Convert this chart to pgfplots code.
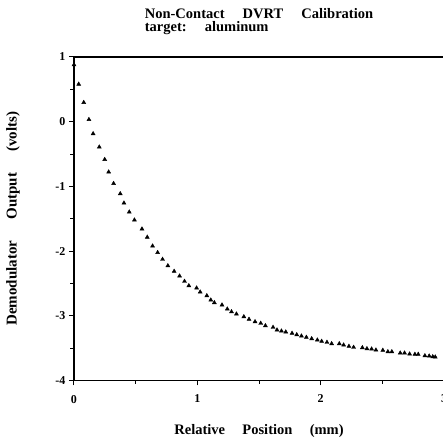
\documentclass[border=0pt]{standalone}
\usepackage{fontspec}
\setmainfont{Liberation Serif}
\usepackage{pgfplots}
\pgfplotsset{compat=1.18}
\newcommand\gap{\hspace{1.25em}}
\newcommand\lgap{\hspace{1.2em}}
\newcommand\ygap{\hspace{1.4em}}
\begin{document}
\begin{tikzpicture}
\begin{axis}[
  name=ax,
  scale only axis,
  width=370pt, height=323.5pt,
  xmin=0, xmax=3, ymin=-4, ymax=1,
  axis x line=box, axis y line=left,
  axis line style={line width=1.3pt, -, black},
  xtick={0,1,2,3}, ytick={-4,-3,-2,-1,0,1},
  minor x tick num=1, minor y tick num=1,
  xtick pos=bottom, ytick pos=left,
  tick align=outside,
  major tick length=5pt, minor tick length=3.5pt,
  tick style={line width=1pt, black},
  ticklabel style={font=\fontsize{12}{12}\selectfont\bfseries},
  xticklabel style={yshift=-6pt},
  /pgf/number format/assume math mode=true,
  title={Non-Contact\gap DVRT\gap Calibration\\target:\gap aluminum},
  title style={font=\fontsize{14.5}{13}\selectfont\bfseries, align=left, at={(0.5,1)}, anchor=south, inner sep=0pt, yshift=16pt},
  xlabel={Relative\lgap Position\lgap (mm)},
  ylabel={Demodulator\ygap Output\ygap (volts)},
  xlabel style={font=\fontsize{14.5}{14.5}\selectfont\bfseries, at={(0.5,0)}, anchor=center, yshift=-50.5pt},
  ylabel style={font=\fontsize{15}{15}\selectfont\bfseries, at={(0,0.5)}, anchor=center, yshift=61pt},
]
\addplot[only marks, mark=triangle*, mark size=2.3pt, black] coordinates {
(0.000,0.880) (0.038,0.580) (0.079,0.297) (0.121,0.034) (0.155,-0.185)
(0.205,-0.391) (0.249,-0.584) (0.281,-0.777) (0.321,-0.955) (0.375,-1.113)
(0.405,-1.257) (0.448,-1.396) (0.490,-1.519) (0.551,-1.658) (0.594,-1.785)
(0.637,-1.921) (0.678,-2.022) (0.718,-2.127) (0.761,-2.226) (0.812,-2.312)
(0.856,-2.385) (0.896,-2.467) (0.931,-2.535) (0.994,-2.570) (1.023,-2.632)
(1.077,-2.689) (1.109,-2.756) (1.138,-2.797) (1.200,-2.833) (1.243,-2.895)
(1.277,-2.937) (1.317,-2.972) (1.377,-3.014) (1.419,-3.054) (1.468,-3.091)
(1.514,-3.116) (1.552,-3.153) (1.614,-3.178) (1.646,-3.219) (1.682,-3.235)
(1.717,-3.250) (1.768,-3.270) (1.806,-3.292) (1.844,-3.312) (1.884,-3.332)
(1.927,-3.354) (1.973,-3.374) (2.008,-3.394) (2.051,-3.410) (2.089,-3.431)
(2.151,-3.431) (2.186,-3.451) (2.229,-3.471) (2.267,-3.487) (2.338,-3.493)
(2.375,-3.508) (2.413,-3.513) (2.448,-3.529) (2.504,-3.533) (2.545,-3.555)
(2.577,-3.555) (2.645,-3.575) (2.680,-3.575) (2.721,-3.590) (2.764,-3.595)
(2.791,-3.595) (2.845,-3.617) (2.880,-3.621) (2.909,-3.632) (2.929,-3.637)
};
\end{axis}
\pgfresetboundingbox
\path ([xshift=-74pt,yshift=-59.5pt]ax.south west) rectangle ([xshift=-1pt,yshift=57pt]ax.north east);
\end{tikzpicture}
\end{document}
